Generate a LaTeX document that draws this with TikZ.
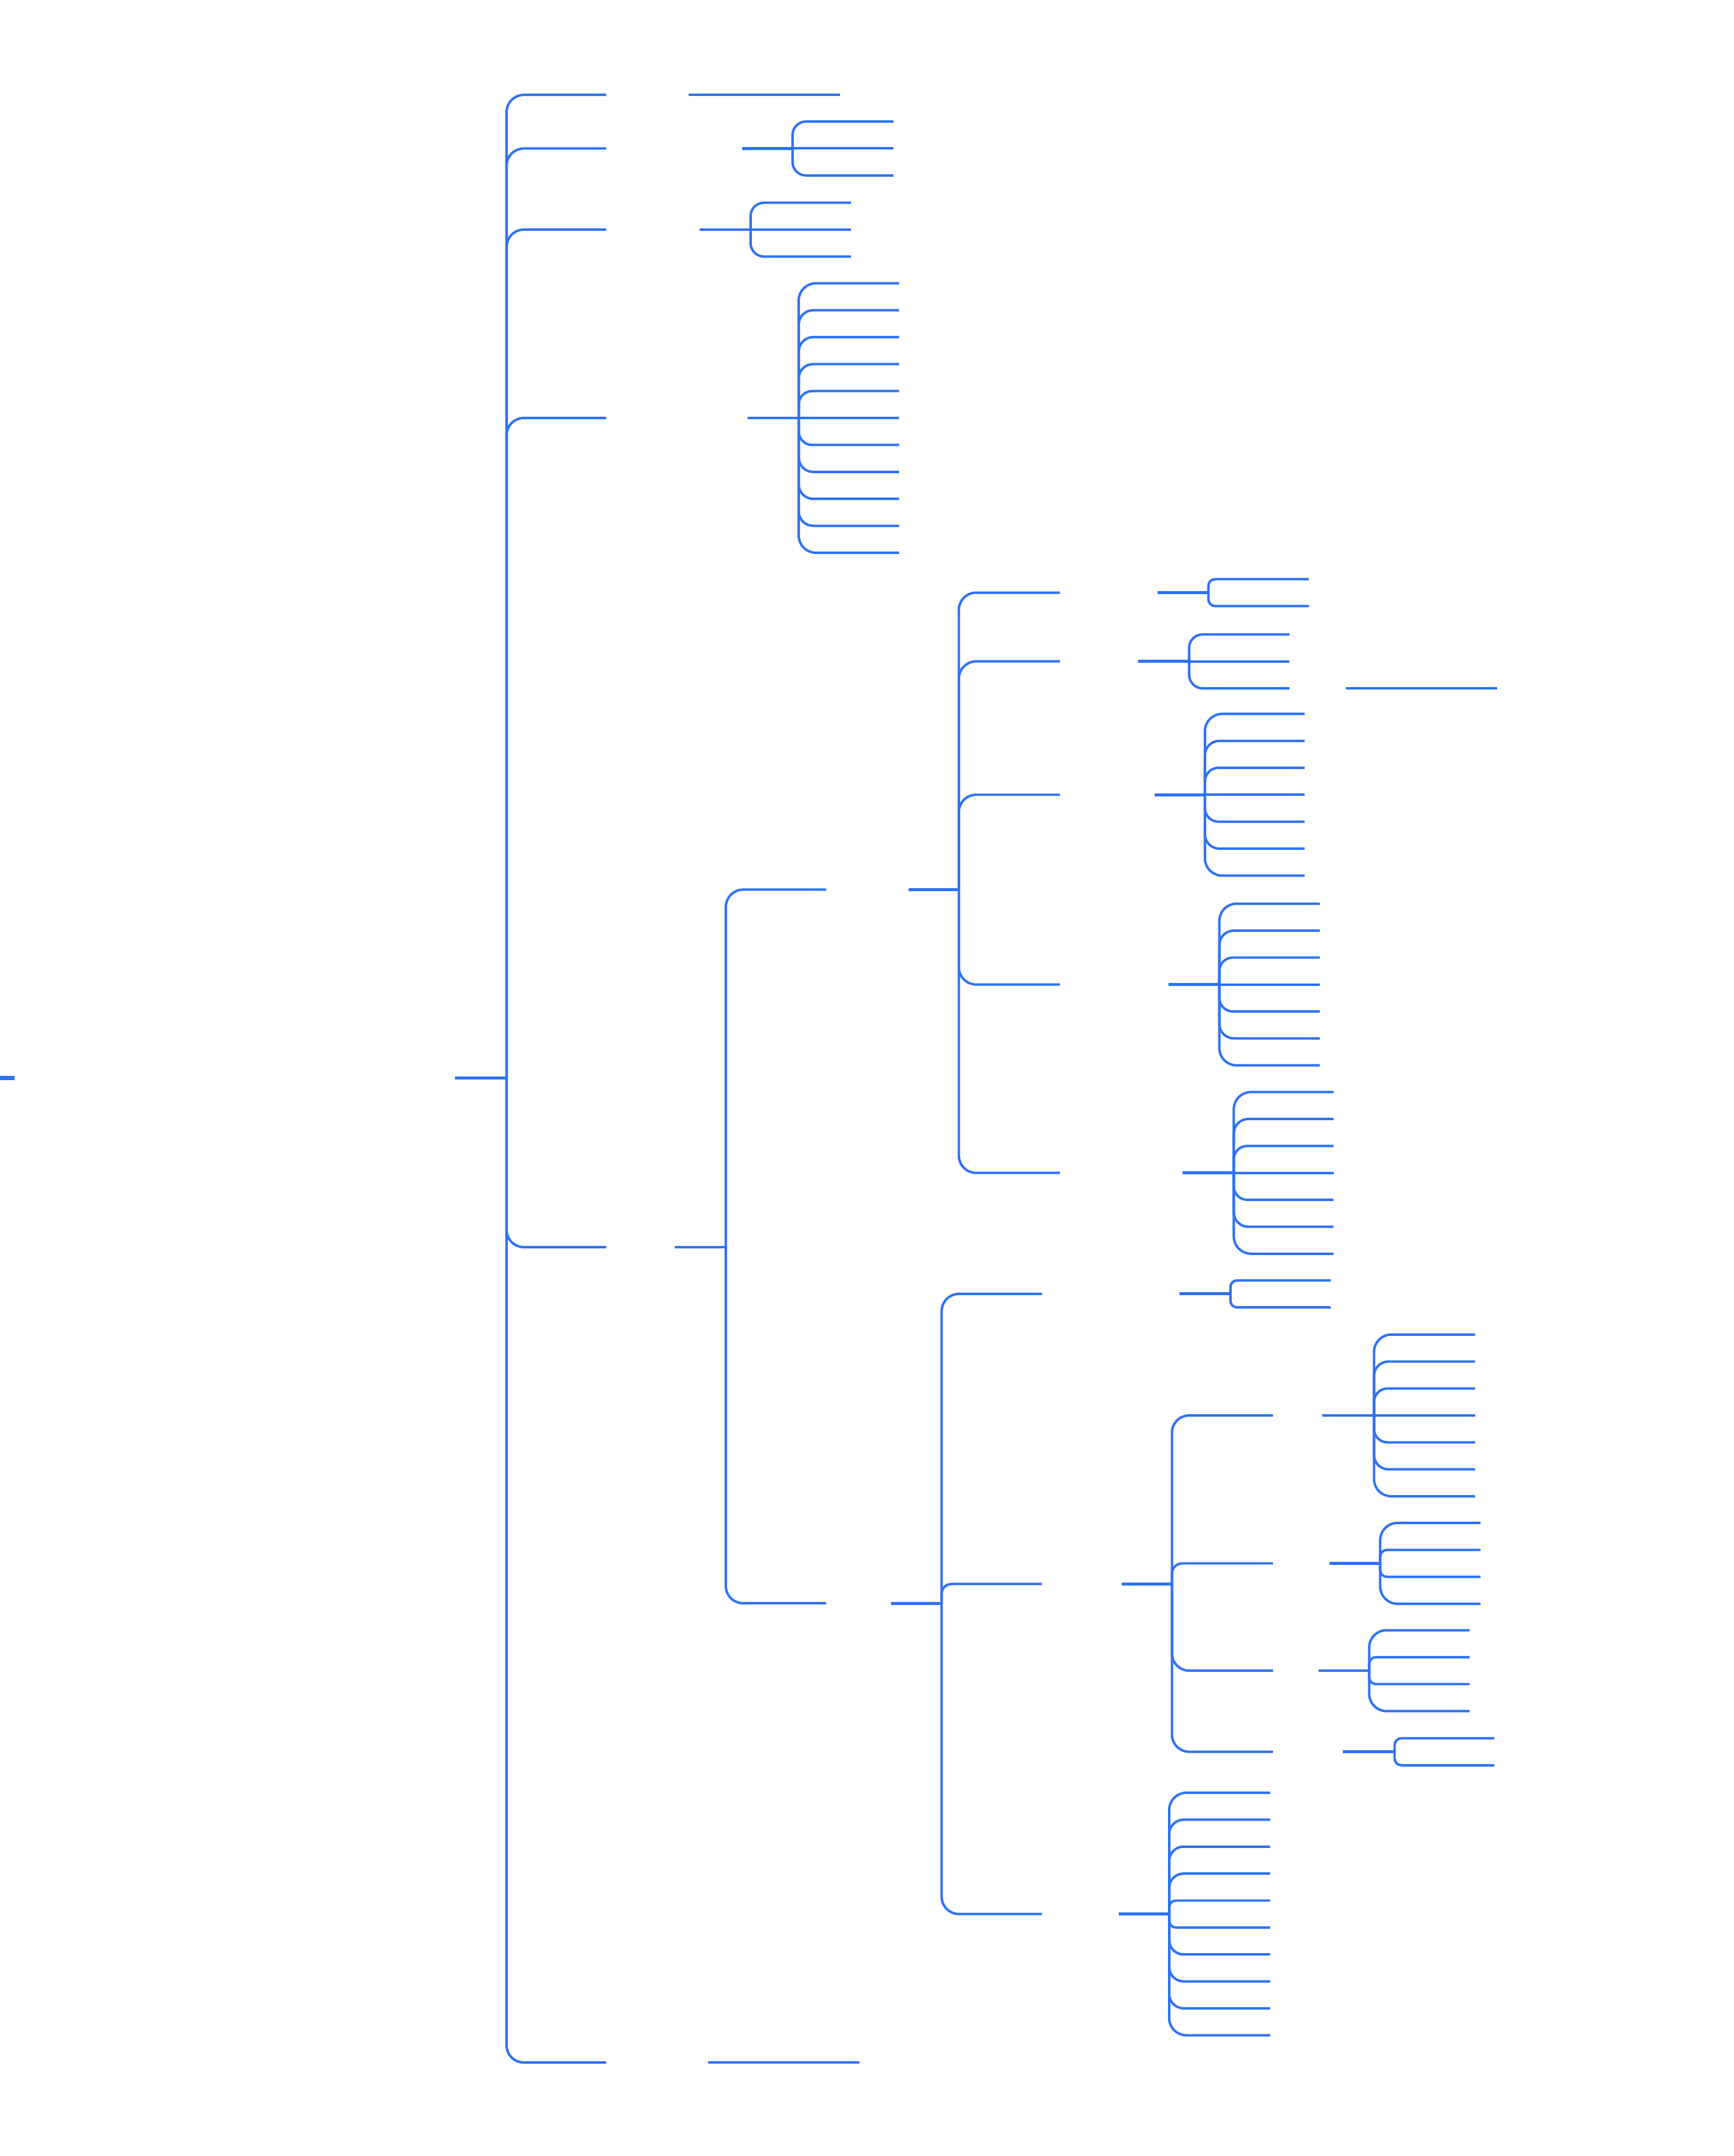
\documentclass[tikz,border=0pt]{standalone}
\usetikzlibrary{calc}
\definecolor{mapblue}{RGB}{45,114,247}
\tikzset{
  conn/.style={draw=mapblue, line width=1.0pt},
  stubline/.style={draw=mapblue, line width=1.2pt},
  rootline/.style={draw=mapblue, line width=1.6pt}
}
% #1 name, #2 stub start x, #3 bar x, #4 parent y, #5 end x, #6 child ys, #7 cap radius for middle children
\newcommand{\mkgroup}[7]{%
  \coordinate (#1) at (#3,#4);
  \coordinate (#1s) at (#2,#4);
  \draw[stubline] (#1s) -- (#1);
  \foreach \cy [count=\n] in {#6} {\xdef\grptot{\n}}
  \foreach \cy [count=\i] in {#6} {
    \coordinate (#1-\i) at (#5,\cy);
    \pgfmathsetmacro\dd{abs(\cy-#4)}
    \pgfmathsetmacro\rr{min(12.5,\dd/2)}
    \ifnum\i=1\relax\else\ifnum\i=\grptot\relax\else
      \pgfmathsetmacro\rr{min(\rr,#7)}
    \fi\fi
    \pgfmathsetlengthmacro\rl{\rr*0.02cm}
    \ifdim\dd pt<0.5pt
      \draw[conn] (#1) -- (#1-\i);
    \else
      \draw[conn, rounded corners=\rl] (#1) |- (#1-\i);
    \fi
  }
}
\begin{document}
\begin{tikzpicture}[x=0.02cm, y=-0.02cm]
\fill[white] (0,0) rectangle (1261,1568);
\useasboundingbox (0,0) rectangle (1261,1568);
% root
\coordinate (root) at (0,784);
\coordinate (rootr) at (10.5,784);
\draw[rootline] (root) -- (rootr);
% level 1 trunk
\mkgroup{T}{331}{368.5}{784}{441}{69,108,167,304,907,1500}{12.5}
% level 2
\coordinate (la1) at (501,69);  \coordinate (lb1) at (611,69);
\draw[conn] (la1) -- (lb1);
\coordinate (la2) at (515,1500); \coordinate (lb2) at (625,1500);
\draw[conn] (la2) -- (lb2);
\mkgroup{Ga}{540}{576.5}{108}{650}{88.4,108,127.6}{10.5}
\mkgroup{Gb}{509}{546}{167}{619}{147.4,167,186.6}{10.5}
\mkgroup{Gc}{544}{581}{304}{654}{206,225.6,245.2,264.8,284.4,304,323.6,343.2,362.8,382.4,402}{10.5}
\mkgroup{Gd}{491}{528}{907}{601}{647,1166}{12.5}
% level 3
\mkgroup{Ge}{661}{697.5}{647}{771}{431,481,578,716,853}{12.5}
\mkgroup{Gf}{648}{685}{1166}{758}{941,1152,1392}{12.5}
% level 4 (upper)
\mkgroup{Gg}{842}{879}{431}{952}{421.2,440.8}{10.5}
\mkgroup{Gh}{828}{865}{481}{938}{461.4,481,500.6}{10.5}
\coordinate (la3) at (979,500.6); \coordinate (lb3) at (1089,500.6);
\draw[conn] (la3) -- (lb3);
\mkgroup{Gi}{840}{876.5}{578}{949}{519.2,538.8,558.4,578,597.6,617.2,636.8}{10.5}
\mkgroup{Gj}{850}{887}{716}{960}{657.2,676.8,696.4,716,735.6,755.2,774.8}{10.5}
\mkgroup{Gk}{860}{897.5}{853}{970}{794.2,813.8,833.4,853,872.6,892.2,911.8}{10.5}
% level 4 (lower)
\mkgroup{Gl}{858}{895}{941}{968}{931.2,950.8}{10.5}
\mkgroup{Gm}{816}{852.5}{1152}{926}{1029.4,1137,1215,1274}{12.5}
\mkgroup{Gn}{814}{850.5}{1392}{924}{1303.8,1323.4,1343,1362.6,1382.2,1401.8,1421.4,1441,1460.6,1480.2}{10.5}
% level 5
\mkgroup{Go}{962}{999.5}{1029.4}{1073}{970.6,990.2,1009.8,1029.4,1049,1068.6,1088.2}{10.5}
\mkgroup{Gp}{967}{1004}{1137}{1077}{1107.6,1127.2,1146.8,1166.4}{10.5}
\mkgroup{Gq}{959}{996}{1215}{1069}{1185.6,1205.2,1224.8,1244.4}{10.5}
\mkgroup{Gr}{977}{1014.5}{1274}{1087}{1264.2,1283.8}{10.5}
\end{tikzpicture}
\end{document}
